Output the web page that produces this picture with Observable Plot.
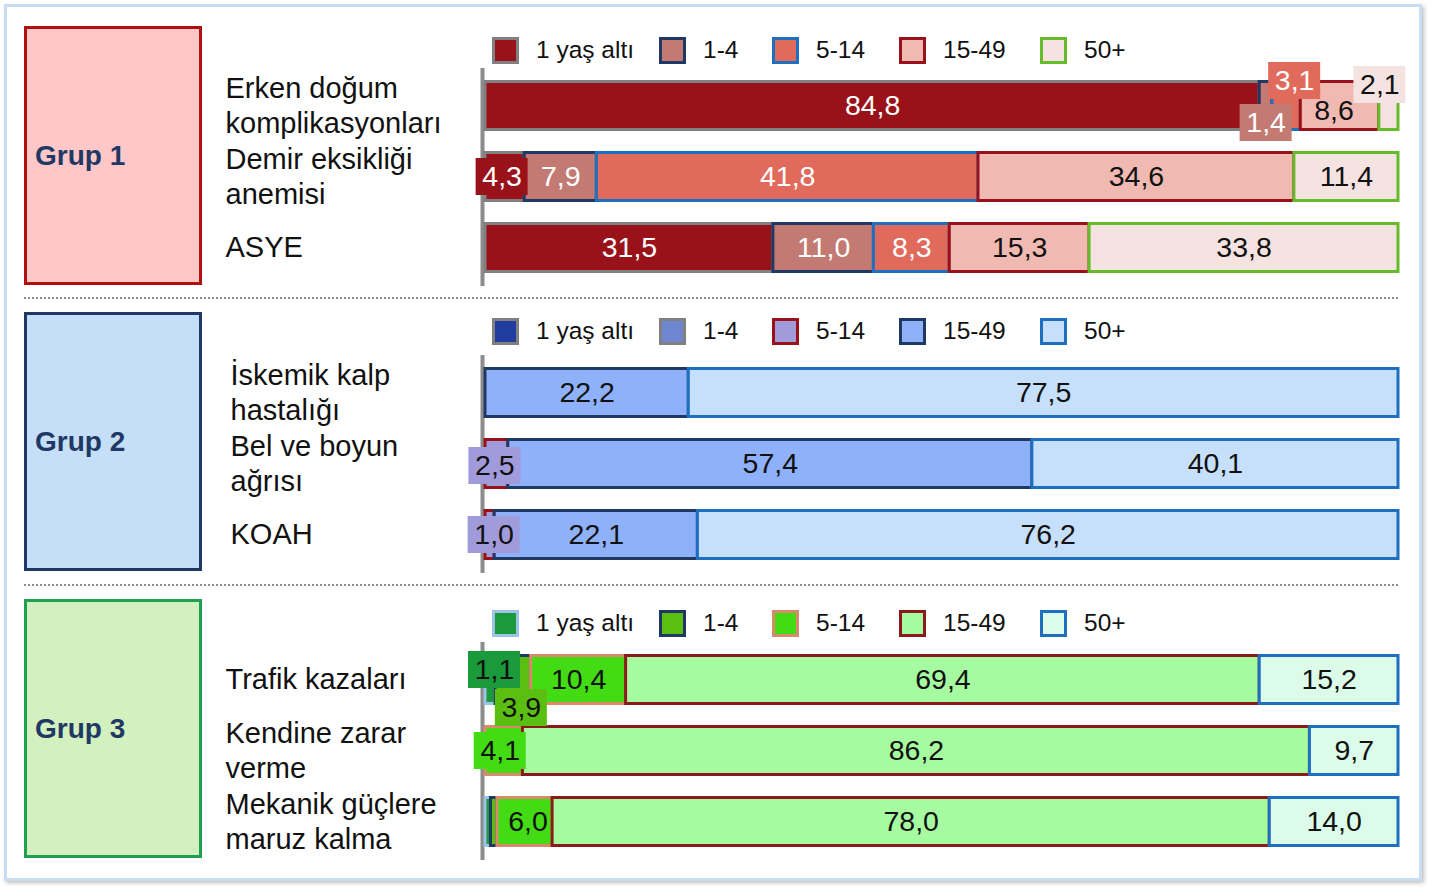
<!DOCTYPE html>
<html>
<head>
<meta charset="utf-8">
<script src="https://cdn.jsdelivr.net/npm/d3@7"></script>
<script src="https://cdn.jsdelivr.net/npm/@observablehq/plot@0.6"></script>
<style>
  body { margin: 0; background: #fff; font-family: "Liberation Sans", Arial, sans-serif; }
  #root { position: relative; width: 1433px; height: 893px; overflow: hidden; background: #fff; }
  .frame { position: absolute; left: 4px; top: 4px; width: 1418px; height: 877px; box-sizing: border-box;
           border: 3px solid #c9dcf1; box-shadow: 2px 2px 4px rgba(0,0,0,0.25); }
  .gbox { position: absolute; left: 24px; width: 178px; height: 259px; box-sizing: border-box; border: 3px solid;
          display: flex; align-items: center; padding-left: 8px; font-weight: bold; font-size: 28px; color: #1f3864; }
  .sep { position: absolute; left: 24px; width: 1374px; height: 0; border-top: 2px dotted #8c8c8c; }
  .legend { position: absolute; left: 492px; height: 27px; display: flex; align-items: center; font-size: 24.5px; color: #111; }
  .legend .item { position: absolute; display: flex; align-items: center; white-space: nowrap; }
  .legend .sw { width: 27px; height: 27px; box-sizing: border-box; border: 3px solid; margin-right: 17px; }
  .plot { position: absolute; left: 0; }
</style>
</head>
<body>
<div id="root"><div class="frame"></div></div>
<script>
// ---------- data ----------
const ageGroups = ["1 yaş altı", "1-4", "5-14", "15-49", "50+"];
const groupNames = ["Grup 1", "Grup 2", "Grup 3"];

const causes1 = ["Erken doğum komplikasyonları", "Demir eksikliği anemisi", "ASYE"];
const causes1Lines = ["Erken doğum\nkomplikasyonları", "Demir eksikliği\nanemisi", "ASYE"];
const values1 = [
  [84.8, 1.4, 3.1, 8.6, 2.1],
  [4.3, 7.9, 41.8, 34.6, 11.4],
  [31.5, 11.0, 8.3, 15.3, 33.8]
];

const causes2 = ["İskemik kalp hastalığı", "Bel ve boyun ağrısı", "KOAH"];
const causes2Lines = ["İskemik kalp\nhastalığı", "Bel ve boyun\nağrısı", "KOAH"];
const values2 = [
  [0, 0, 0, 22.2, 77.5],
  [0, 0, 2.5, 57.4, 40.1],
  [0, 0, 1.0, 22.1, 76.2]
];

const causes3 = ["Trafik kazaları", "Kendine zarar verme", "Mekanik güçlere maruz kalma"];
const causes3Lines = ["Trafik kazaları", "Kendine zarar\nverme", "Mekanik güçlere\nmaruz kalma"];
const values3 = [
  [1.1, 3.9, 10.4, 69.4, 15.2],
  [0, 0, 4.1, 86.2, 9.7],
  [0.6, 0.7, 6.0, 78.0, 14.0]
];

// ---------- styles ----------
const fills1 = ["#9a1219", "#c27a72", "#e06b5c", "#f0bab2", "#f4e3e0"];
const strokes1 = ["#808080", "#1f3864", "#1f6fc0", "#9a1219", "#66bb2a"];
const text1 = ["#ffffff", "#ffffff", "#ffffff", "#111111", "#111111"];

const fills2 = ["#1f3c9e", "#6e86cf", "#a19bdb", "#8eb1fa", "#c6dffa"];
const strokes2 = ["#808080", "#808080", "#9a1219", "#1f3864", "#1f6fc0"];
const text2 = ["#111111", "#111111", "#111111", "#111111", "#111111"];

const fills3 = ["#1a9a3a", "#5bbf12", "#43dc14", "#a6fba0", "#dcfbe8"];
const strokes3 = ["#9dc3e6", "#1f3864", "#d98a6a", "#8b1a1a", "#1f6fc0"];
const text3 = ["#111111", "#111111", "#111111", "#111111", "#111111"];

const groupBoxFill = ["#ffc7c7", "#c6dff8", "#d3f0bf"];
const groupBoxStroke = ["#b01010", "#1f3864", "#1fa050"];

// label placement tweaks: [panel, cause index, age index, dx, dy, boxed]
const labelTweaks = [
  [0, 0, 1, 0, 17, true],
  [0, 0, 2, 8, -25, true],
  [0, 0, 3, -6, 5, false],
  [0, 0, 4, -9, -21, true],
  [0, 1, 0, -3, 0, true],
  [1, 1, 2, -2, 2, true],
  [1, 2, 2, 4, 0, true],
  [2, 0, 0, 4, -10, true],
  [2, 0, 1, 8, 28, true],
  [2, 1, 2, -4, 0, true],
  [2, 2, 2, 3, 0, false]
];

const panels = [
  {causes: causes1, lines: causes1Lines, values: values1, fills: fills1, strokes: strokes1, text: text1},
  {causes: causes2, lines: causes2Lines, values: values2, fills: fills2, strokes: strokes2, text: text2},
  {causes: causes3, lines: causes3Lines, values: values3, fills: fills3, strokes: strokes3, text: text3}
];

// ---------- layout ----------
const svgTop = [0, 287, 574];
const boxTop = [26, 312, 599];
const legendMid = [50, 331, 623];
const labelX = [225, 230, 225];
const sepTop = [297, 584];
const legendSwX = [0, 167, 280, 407, 548];

const fmt = v => d3.format(".1f")(v).replace(".", ",");
const root = document.getElementById("root");

sepTop.forEach(t => {
  const s = document.createElement("div");
  s.className = "sep"; s.style.top = t + "px";
  root.appendChild(s);
});

panels.forEach((p, pi) => {
  // group box
  const gb = document.createElement("div");
  gb.className = "gbox";
  gb.style.top = boxTop[pi] + "px";
  gb.style.background = groupBoxFill[pi];
  gb.style.borderColor = groupBoxStroke[pi];
  gb.textContent = groupNames[pi];
  root.appendChild(gb);

  // rows
  const rows = [];
  p.causes.forEach((c, ci) => {
    const total = d3.sum(p.values[ci]);
    let cum = 0;
    p.values[ci].forEach((v, ai) => {
      const tw = labelTweaks.find(t => t[0] === pi && t[1] === ci && t[2] === ai);
      rows.push({cause: c, ci, ai, age: ageGroups[ai], value: v, mid: (cum + v / 2) / total,
                 fill: p.fills[ai], stroke: p.strokes[ai], tc: p.text[ai], tw});
      cum += v;
    });
  });
  const catRows = p.causes.map((c, i) => ({cause: c, label: p.lines[i]}));

  const marks = [
    Plot.ruleX([0], {stroke: "#8c8c8c", strokeWidth: 4, dx: -3}),
    Plot.barX(rows.filter(d => d.value > 0), Plot.stackX({
      x: "value", y: "cause", offset: "normalize", fill: "fill", stroke: "stroke",
      strokeWidth: 3, insetTop: 0.5, insetBottom: 0.5
    })),
    Plot.text(rows.filter(d => d.value >= 1 && !d.tw), {
      x: "mid", y: "cause", text: d => fmt(d.value), fill: "tc", fontSize: 28.5
    }),
    Plot.text(catRows, {
      y: "cause", text: "label", frameAnchor: "left", textAnchor: "start",
      dx: labelX[pi] - 485, dy: -2, fontSize: 29, lineHeight: 35 / 29, fill: "#111"
    })
  ];
  rows.filter(d => d.tw && d.value >= 1).forEach(d => {
    const [, , , dx, dy, boxed] = d.tw;
    if (boxed) {
      marks.push(Plot.barX([d], {
        x1: "mid", x2: "mid", y: "cause", fill: "fill",
        insetLeft: -26, insetRight: -26, insetTop: 6, insetBottom: 6, dx, dy
      }));
    }
    marks.push(Plot.text([d], {x: "mid", y: "cause", text: r => fmt(r.value), fill: "tc", fontSize: 28.5, dx, dy}));
  });

  const chart = Plot.plot({
    width: 1433, height: 287,
    marginLeft: 485, marginRight: 35, marginTop: 68, marginBottom: 1,
    x: {domain: [0, 1], axis: null},
    y: {domain: p.causes, axis: null, paddingInner: 22 / 72, paddingOuter: 12 / 72},
    color: {type: "identity"},
    style: {fontFamily: "'Liberation Sans', Arial, sans-serif", background: "transparent", overflow: "visible"},
    marks
  });
  chart.classList.add("plot");
  chart.style.top = svgTop[pi] + "px";
  root.appendChild(chart);

  // legend
  const lg = document.createElement("div");
  lg.className = "legend";
  lg.style.top = (legendMid[pi] - 13.5) + "px";
  ageGroups.forEach((a, ai) => {
    const it = document.createElement("div");
    it.className = "item";
    it.style.left = legendSwX[ai] + "px";
    const sw = document.createElement("div");
    sw.className = "sw";
    sw.style.background = p.fills[ai];
    sw.style.borderColor = p.strokes[ai];
    const tx = document.createElement("span");
    tx.textContent = a;
    it.appendChild(sw); it.appendChild(tx);
    lg.appendChild(it);
  });
  root.appendChild(lg);
});
</script>
</body>
</html>
